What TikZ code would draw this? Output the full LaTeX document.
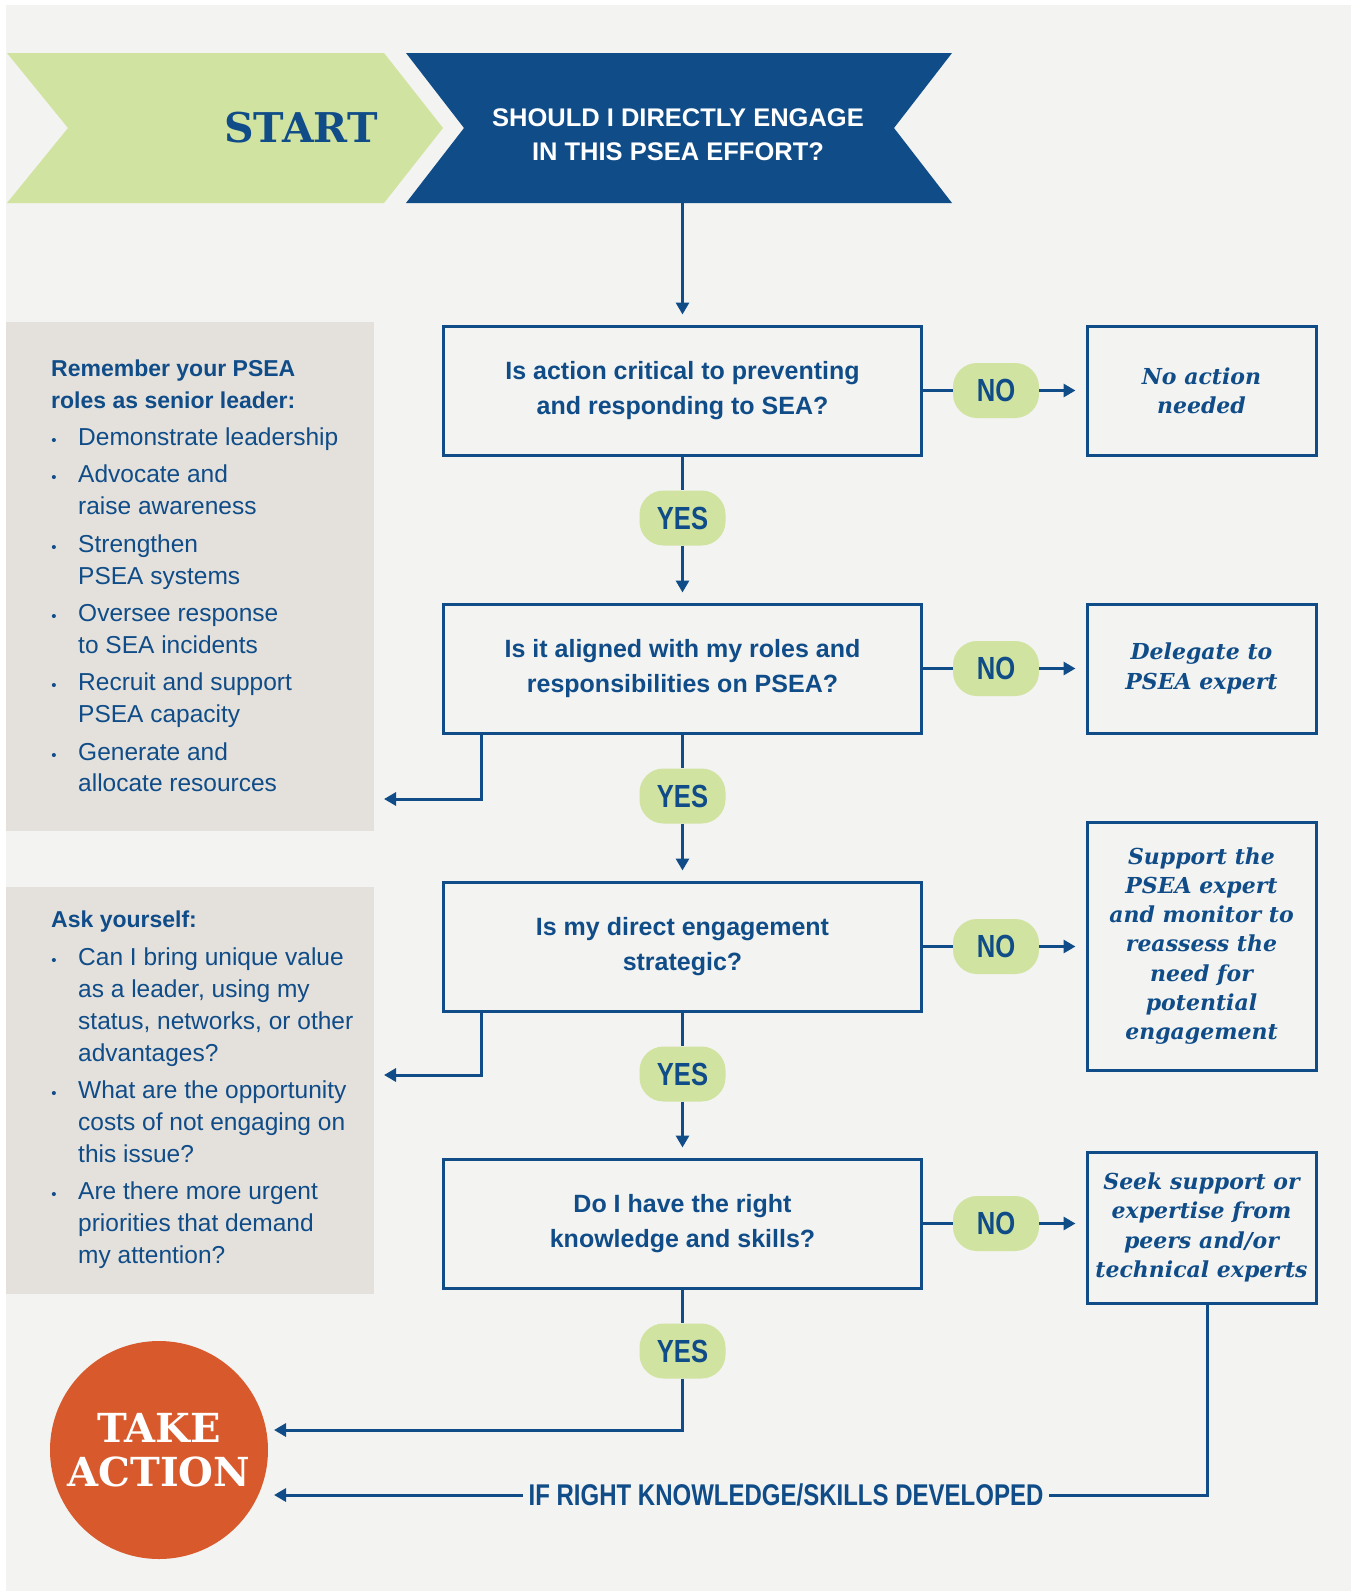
\documentclass[tikz,border=0pt]{standalone}
\usepackage{fontspec}
\setmainfont{Liberation Sans}
\newfontfamily\condfam[FakeStretch=0.8]{Liberation Sans}
\newfontfamily\slabfam{DejaVu Serif}
\usetikzlibrary{arrows.meta,calc}
\definecolor{pblue}{HTML}{0F4C88}
\definecolor{pgreen}{HTML}{D1E3A0}
\definecolor{pgray}{HTML}{E4E1DC}
\definecolor{pbg}{HTML}{F3F3F1}
\definecolor{porange}{HTML}{D8592B}
\begin{document}
\begin{tikzpicture}[x=1pt,y=-1pt,
  conn/.style={draw=pblue, line width=3pt},
  arr/.style={conn, -{Triangle[length=12pt,width=13pt]}, shorten >=10pt},
  qbox/.style={draw=pblue, line width=3pt, minimum width=478pt, minimum height=129pt, inner sep=0pt,
    text=pblue, align=center, font=\fontsize{25}{35}\selectfont\bfseries},
  rbox/.style={draw=pblue, line width=3pt, minimum width=229pt, inner sep=0pt, text=pblue, align=center,
    font=\slabfam\fontsize{22}{29.3}\selectfont\bfseries\itshape},
  pill/.style={fill=pgreen, rounded corners=24pt, minimum width=86pt, minimum height=55pt, inner sep=0pt,
    text=pblue, font=\condfam\fontsize{32}{32}\selectfont\bfseries},
  panel/.style={fill=pgray, inner sep=0pt, minimum width=368pt},
  ptext/.style={anchor=base west, inner sep=0pt, text=pblue, font=\fontsize{24.5}{30}\selectfont},
  phead/.style={anchor=base west, inner sep=0pt, text=pblue, font=\fontsize{23}{30}\selectfont\bfseries},
  bul/.style={anchor=base, inner sep=0pt, text=pblue, font=\fontsize{15}{15}\selectfont}
]
\useasboundingbox (0,0) rectangle (1351,1591);
\fill[white] (0,0) rectangle (1351,1591);
\fill[pbg] (6,5) rectangle (1351,1591);

% header chevrons
\fill[pgreen] (7,53) -- (384,53) -- (443,128) -- (384,203) -- (7,203) -- (68,128) -- cycle;
\node[text=pblue, inner sep=0pt, font=\slabfam\bfseries\fontsize{41}{41}\selectfont] (start) at (301,128) {START};
\fill[pblue] (406,53) -- (952,53) -- (894,128) -- (952,203) -- (406,203) -- (464,128) -- cycle;
\node[text=white, align=center, inner sep=0pt, font=\fontsize{25.5}{34}\selectfont\bfseries] (banner) at (678,135)
  {SHOULD I DIRECTLY ENGAGE\\IN THIS PSEA EFFORT?};
\coordinate (bannerS) at (682.5,203);

% side panels
\node[panel, minimum height=509pt] (lp1) at (190,576.5) {};
\node[panel, minimum height=407pt] (lp2) at (190,1090.5) {};

\node[phead] (h1a) at (51,376) {Remember your PSEA};
\node[phead] (h1b) at (51,408) {roles as senior leader:};
\foreach \yy/\tt in {445/Demonstrate leadership, 482/Advocate and, 514/raise awareness,
  552/Strengthen, 584/PSEA systems, 621/Oversee response, 653/to SEA incidents,
  690/Recruit and support, 722/PSEA capacity, 760/Generate and, 791/allocate resources}
  \node[ptext, name=pa\yy] at (78,\yy) {\tt};
\node[phead] (h2) at (51,927) {Ask yourself:};
\foreach \yy/\tt in {965/Can I bring unique value, 997/{as a leader, using my},
  1029/{status, networks, or other}, 1061/advantages?, 1098/What are the opportunity,
  1130/costs of not engaging on, 1162/this issue?, 1199/Are there more urgent,
  1231/priorities that demand, 1263/my attention?}
  \node[ptext, name=pb\yy] at (78,\yy) {\tt};
\foreach \yy in {445,482,552,621,690,760,965,1098,1199}
  \node[bul, name=bu\yy] at (54,\yy) {•};

% question boxes
\node[qbox] (q1) at (682.5,390.5) {Is action critical to preventing\\and responding to SEA?};
\node[qbox] (q2) at (682.5,668.5) {Is it aligned with my roles and\\responsibilities on PSEA?};
\node[qbox] (q3) at (682.5,946.5) {Is my direct engagement\\strategic?};
\node[qbox] (q4) at (682.5,1223.5) {Do I have the right\\knowledge and skills?};

% result boxes
\node[rbox, minimum height=129pt] (r1) at (1201.5,390.5) {No action\\needed};
\node[rbox, minimum height=129pt] (r2) at (1201.5,668.5) {Delegate to\\PSEA expert};
\node[rbox, minimum height=248pt] (r3) at (1201.5,946) {Support the\\PSEA expert\\and monitor to\\reassess the\\need for\\potential\\engagement};
\node[rbox, minimum height=151pt] (r4) at (1201.5,1227.5) {Seek support or\\expertise from\\peers and/or\\technical experts};

% pills
\node[pill] (no1) at (996,390.5) {NO};
\node[pill] (no2) at (996,668.5) {NO};
\node[pill] (no3) at (996,946.5) {NO};
\node[pill] (no4) at (996,1223.5) {NO};
\node[pill] (yes1) at (682.5,518) {YES};
\node[pill] (yes2) at (682.5,796) {YES};
\node[pill] (yes3) at (682.5,1074) {YES};
\node[pill] (yes4) at (682.5,1351) {YES};

% take action
\node[circle, fill=porange, minimum size=218pt, inner sep=0pt, text=white, align=center,
  font=\slabfam\bfseries\fontsize{40}{44}\selectfont] (take) at (159,1450) {TAKE\\ACTION};

\coordinate (la1) at (374,799);
\coordinate (la2) at (374,1075);
\coordinate (ta1) at (268,1430);
\coordinate (ta2) at (268,1495);

% connectors
\draw[arr] (bannerS) -- (q1.north);
\foreach \i/\j in {1/2,2/3,3/4} {
  \draw[conn] (q\i.south) -- (yes\i.north);
  \draw[arr] (yes\i.south) -- (q\j.north);
}
\draw[conn] (q4.south) -- (yes4.north);
\foreach \i in {1,2,3,4} {
  \draw[conn] (q\i.east) -- (no\i.west);
  \draw[arr] (no\i.east) -- (no\i.east -| r\i.west);
}
\draw[arr] ([xshift=39.5pt]q2.south west) |- (la1);
\draw[arr] ([xshift=39.5pt]q3.south west) |- (la2);
\draw[arr, shorten >=6pt] (yes4.south) |- (ta1);
\draw[arr, shorten >=6pt] ([xshift=5.5pt]r4.south) |- (ta2);
\node[fill=pbg, inner xsep=6pt, inner ysep=2pt, text=pblue, font=\condfam\fontsize{30}{30}\selectfont\bfseries]
  (lbl) at (786,1495) {IF RIGHT KNOWLEDGE/SKILLS DEVELOPED};
\end{tikzpicture}
\end{document}
